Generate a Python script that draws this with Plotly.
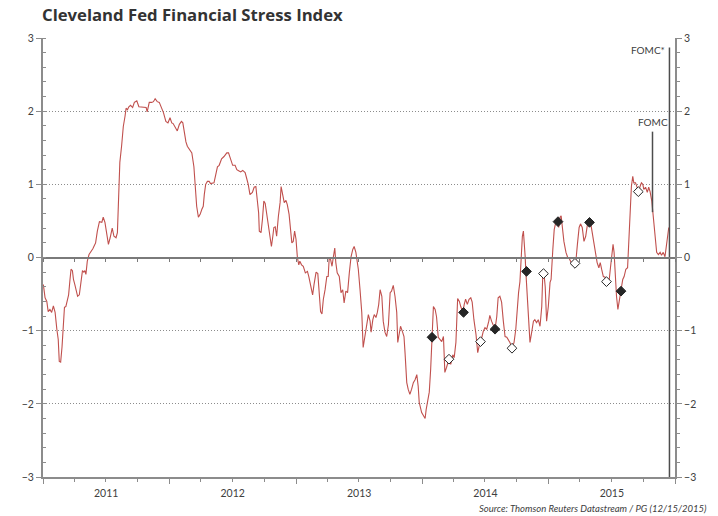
import pandas as pd
import plotly.graph_objects as go

# ---- data ----
start_date = "2011-01-01"
# days since 2011-01-01
day_offsets = [
    1, 6, 11, 15, 20, 25, 30, 35, 40, 44, 47, 51, 55, 59, 62, 66, 70, 74, 78, 81,
    85, 88, 92, 97, 100, 105, 109, 114, 118, 121, 124, 128, 133, 138, 144, 147, 152, 157, 163, 170,
    174, 179, 184, 189, 194, 200, 205, 211, 215, 219, 222, 227, 232, 237, 240, 244, 248, 253, 259, 264,
    271, 277, 285, 292, 298, 301, 307, 314, 319, 324, 330, 336, 341, 348, 355, 361, 367, 372, 376, 381,
    388, 394, 400, 404, 408, 413, 417, 422, 427, 430, 436, 440, 444, 449, 454, 459, 463, 466, 470, 475,
    480, 484, 490, 494, 499, 504, 509, 516, 523, 531, 536, 542, 548, 555, 560, 564, 571, 577, 584, 588,
    593, 598, 605, 610, 615, 619, 623, 625, 630, 634, 638, 642, 646, 651, 656, 660, 664, 667, 671, 675,
    680, 685, 688, 692, 697, 702, 706, 711, 716, 719, 723, 727, 731, 735, 739, 742, 747, 752, 758, 764,
    768, 774, 779, 783, 789, 794, 798, 802, 806, 810, 815, 820, 824, 827, 831, 835, 839, 843, 846, 850,
    856, 861, 866, 870, 875, 880, 885, 890, 895, 899, 904, 911, 916, 921, 925, 930, 935, 940, 945, 948,
    953, 957, 962, 966, 970, 974, 979, 983, 988, 993, 998, 1003, 1007, 1012, 1017, 1022, 1025, 1029, 1033, 1039,
    1043, 1046, 1051, 1055, 1060, 1065, 1070, 1075, 1080, 1084, 1087, 1094, 1099, 1104, 1107, 1111, 1116, 1120, 1124, 1128,
    1133, 1137, 1142, 1147, 1152, 1157, 1161, 1166, 1173, 1178, 1184, 1188, 1193, 1198, 1203, 1207, 1213, 1217, 1221, 1226,
    1231, 1236, 1240, 1245, 1251, 1256, 1260, 1263, 1268, 1272, 1277, 1282, 1288, 1291, 1296, 1301, 1306, 1311, 1315, 1320,
    1325, 1330, 1335, 1340, 1344, 1349, 1355, 1361, 1366, 1370, 1374, 1378, 1380, 1385, 1388, 1390, 1393, 1395, 1399, 1402,
    1407, 1412, 1417, 1421, 1426, 1431, 1436, 1441, 1444, 1447, 1451, 1455, 1460, 1465, 1468, 1473, 1477, 1482, 1487, 1490,
    1494, 1497, 1500, 1505, 1511, 1516, 1520, 1525, 1529, 1536, 1540, 1544, 1549, 1553, 1558, 1563, 1568, 1573, 1578, 1582,
    1586, 1590, 1594, 1598, 1601, 1606, 1610, 1614, 1619, 1624, 1627, 1632, 1636, 1640, 1643, 1647, 1650, 1653, 1657, 1661,
    1667, 1671, 1675, 1679, 1684, 1689, 1693, 1696, 1700, 1704, 1707, 1712, 1717, 1721, 1725, 1729, 1733, 1736, 1741, 1746,
    1750, 1754, 1759, 1763, 1768, 1773, 1778, 1783, 1787, 1792, 1797, 1802, 1808,
]
stress_index = [
    -0.37, -0.55, -0.60, -0.74, -0.71, -0.75, -0.66, -0.75, -0.98, -1.12, -1.42, -1.43, -1.22, -0.94, -0.68, -0.67, -0.60, -0.51, -0.30, -0.16,
    -0.18, -0.30, -0.37, -0.48, -0.53, -0.51, -0.34, -0.18, -0.20, -0.18, -0.23, -0.05, 0.04, 0.07, 0.12, 0.15, 0.20, 0.36, 0.49, 0.48,
    0.55, 0.48, 0.31, 0.18, 0.27, 0.40, 0.29, 0.27, 0.34, 0.89, 1.30, 1.52, 1.79, 1.93, 2.04, 2.02, 2.06, 2.08, 2.05, 2.12,
    2.14, 2.06, 2.06, 2.05, 2.05, 1.99, 2.12, 2.12, 2.13, 2.17, 2.13, 2.12, 2.06, 1.98, 1.86, 1.84, 1.91, 1.84, 1.83, 1.79,
    1.73, 1.82, 1.86, 1.84, 1.72, 1.58, 1.52, 1.48, 1.46, 1.43, 1.24, 0.97, 0.70, 0.55, 0.59, 0.66, 0.70, 0.86, 1.00, 1.04,
    1.04, 1.01, 1.01, 1.02, 1.13, 1.24, 1.26, 1.35, 1.38, 1.43, 1.43, 1.34, 1.26, 1.26, 1.20, 1.19, 1.17, 1.19, 1.16, 1.09,
    1.00, 0.86, 0.89, 0.96, 0.97, 0.79, 0.61, 0.36, 0.34, 0.52, 0.77, 0.74, 0.61, 0.48, 0.29, 0.15, 0.29, 0.41, 0.42, 0.29,
    0.56, 0.75, 0.97, 0.86, 0.75, 0.78, 0.72, 0.59, 0.38, 0.20, 0.22, 0.36, 0.25, 0.00, -0.10, -0.05, -0.10, -0.12, -0.21, -0.19,
    -0.26, -0.40, -0.51, -0.37, -0.20, -0.22, -0.48, -0.74, -0.77, -0.57, -0.44, -0.26, -0.26, 0.00, -0.03, -0.12, 0.01, 0.13, -0.07, -0.21,
    -0.26, -0.48, -0.44, -0.62, -0.46, -0.48, -0.21, 0.01, 0.11, 0.15, 0.07, -0.16, -0.44, -0.75, -1.23, -1.08, -0.98, -0.78, -0.87, -1.02,
    -0.85, -0.78, -0.82, -0.75, -0.64, -0.44, -0.53, -0.87, -1.02, -1.08, -0.92, -0.48, -0.46, -0.38, -0.53, -0.75, -1.16, -1.02, -0.94, -1.02,
    -1.08, -1.30, -1.71, -1.80, -1.87, -1.80, -1.71, -1.67, -1.60, -1.76, -1.98, -2.12, -2.17, -2.20, -2.08, -1.98, -1.84, -1.53, -1.09, -0.67,
    -0.71, -0.81, -1.09, -1.12, -1.15, -1.08, -1.57, -1.50, -1.39, -1.46, -1.33, -1.37, -1.16, -0.56, -0.60, -0.67, -0.75, -0.64, -0.57, -0.64,
    -0.57, -0.55, -0.61, -0.85, -1.05, -1.30, -1.19, -1.15, -1.09, -1.01, -0.96, -0.98, -0.87, -0.79, -0.87, -0.94, -0.98, -0.81, -0.55, -0.53,
    -0.61, -0.87, -1.08, -1.09, -1.12, -1.16, -1.24, -1.16, -0.98, -0.71, -0.48, -0.33, -0.10, 0.29, 0.36, 0.25, 0.02, -0.19, -0.48, -0.81,
    -1.16, -1.02, -0.87, -0.85, -0.89, -0.85, -0.94, -0.67, -0.23, -0.20, -0.40, -0.87, -0.67, -0.34, -0.30, 0.11, 0.38, 0.49, 0.49, 0.41,
    0.55, 0.57, 0.41, 0.22, 0.07, 0.00, -0.01, -0.07, -0.10, -0.08, -0.03, 0.18, 0.41, 0.46, 0.41, 0.22, 0.29, 0.45, 0.48, 0.48,
    0.36, 0.22, 0.11, -0.01, -0.07, -0.14, -0.07, -0.16, -0.26, -0.27, -0.33, -0.37, -0.30, -0.12, 0.00, 0.18, 0.07, -0.30, -0.53, -0.71,
    -0.53, -0.46, -0.30, -0.26, -0.16, -0.14, 0.29, 0.77, 0.97, 1.11, 1.02, 1.02, 0.96, 0.90, 0.97, 1.02, 1.00, 0.93, 0.96, 0.89,
    0.96, 0.90, 0.77, 0.56, 0.38, 0.07, 0.04, 0.07, 0.03, 0.07, 0.01, 0.18, 0.41,
]

# FOMC meetings without press conference (filled) and with (open)
fomc_filled_dates = ["2014-01-29", "2014-04-30", "2014-07-30", "2014-10-29",
                     "2015-01-28", "2015-04-29", "2015-07-29"]
fomc_filled_values = [-1.09, -0.75, -0.98, -0.19, 0.49, 0.48, -0.46]
fomc_open_dates = ["2014-03-19", "2014-06-18", "2014-09-17", "2014-12-17",
                   "2015-03-18", "2015-06-17", "2015-09-17"]
fomc_open_values = [-1.39, -1.15, -1.24, -0.22, -0.08, -0.33, 0.90]

fomc_oct_date = "2015-10-28"
fomc_oct_span = [1.72, 0.62]
fomc_dec_date = "2015-12-16"
fomc_dec_span = [2.87, -3.0]

year_range = ["2011-01-01", "2016-01-01"]
y_range = [-3, 3]

# ---- figure ----
dates = pd.Timestamp(start_date) + pd.to_timedelta(day_offsets, unit="D")

LINE_RED = "#c0504d"
DARK = "#333333"
AXIS = "#8c8c8c"
ZERO = "#7a7a7a"
TXT = "#404040"
FONT = "Lato"

fig = go.Figure()
fig.add_trace(go.Scatter(x=dates, y=stress_index, mode="lines",
                         line=dict(color=LINE_RED, width=1.1), showlegend=False,
                         hoverinfo="skip"))
fig.add_trace(go.Scatter(x=fomc_filled_dates, y=fomc_filled_values, mode="markers",
                         marker=dict(symbol="diamond", size=7.5, color="#262626",
                                     line=dict(color="#262626", width=1)),
                         showlegend=False))
fig.add_trace(go.Scatter(x=fomc_open_dates, y=fomc_open_values, mode="markers",
                         marker=dict(symbol="diamond", size=7.5, color="white",
                                     line=dict(color="#262626", width=1)),
                         showlegend=False))
# FOMC vertical lines (on the overlay axes so those axes are drawn)
fig.add_trace(go.Scatter(x=[fomc_oct_date, fomc_oct_date, None, fomc_dec_date, fomc_dec_date],
                         y=[fomc_oct_span[0], fomc_oct_span[1], None, fomc_dec_span[0], fomc_dec_span[1]],
                         mode="lines", line=dict(color="#4d4d4d", width=1.5),
                         xaxis="x2", yaxis="y2", showlegend=False, hoverinfo="skip"))

fig.add_annotation(x=fomc_dec_date, y=2.84, xref="x", yref="y", text="FOMC*",
                   showarrow=False, xanchor="right", xshift=-2,
                   font=dict(family=FONT, size=10, color=TXT))
fig.add_annotation(x=fomc_oct_date, y=1.85, xref="x", yref="y", text="FOMC",
                   showarrow=False, xanchor="center",
                   font=dict(family=FONT, size=10, color=TXT))
fig.add_annotation(x=1.054, y=-0.072, xref="paper", yref="paper",
                   text="Source: Thomson Reuters Datastream / PG (12/15/2015)",
                   showarrow=False, xanchor="right", yanchor="middle",
                   font=dict(family=FONT, size=9.5, color=TXT, style="italic"))

tickfont = dict(family=FONT, size=10.5, color=TXT)
fig.update_layout(
    width=718, height=516,
    margin=dict(l=43, r=43, t=38, b=39),
    paper_bgcolor="white", plot_bgcolor="white",
    title=dict(text="<b>Cleveland Fed Financial Stress Index</b>",
               x=42 / 718, xanchor="left", xref="container",
               y=1 - 15 / 516, yanchor="middle", yref="container",
               font=dict(family="Open Sans", size=16.7, color=DARK)),
    xaxis=dict(type="date", range=year_range, showgrid=False, zeroline=False,
               showline=True, linecolor=AXIS, linewidth=2,
               ticks="outside", ticklen=5, tickcolor=AXIS, tickwidth=1,
               tick0="2011-01-01", dtick="M12", tickformat="%Y",
               ticklabelmode="period", tickfont=tickfont,
               minor=dict(dtick="M3", tick0="2011-01-01", ticks="outside",
                          ticklen=3, tickcolor=AXIS, showgrid=False)),
    xaxis2=dict(type="date", range=year_range, overlaying="x", anchor="free",
                position=0.5, showgrid=False, zeroline=False,
                showline=True, linecolor=ZERO, linewidth=2,
                ticks="outside", ticklen=3, tickcolor=ZERO,
                tick0="2011-01-01", dtick="M3", showticklabels=False),
    yaxis=dict(range=y_range, dtick=1, showgrid=True, gridcolor="#8c8c8c",
               griddash="1px,2px", gridwidth=1, zeroline=False,
               showline=True, linecolor=AXIS, linewidth=2,
               ticks="outside", ticklen=5, tickcolor=AXIS, tickfont=tickfont,
               minor=dict(dtick=0.2, ticks="inside", ticklen=3, tickcolor=AXIS,
                          showgrid=False)),
    yaxis2=dict(range=y_range, dtick=1, overlaying="y", side="right",
                anchor="x", showgrid=False, zeroline=False,
                showline=True, linecolor=AXIS, linewidth=2,
                ticks="outside", ticklen=5, tickcolor=AXIS, tickfont=tickfont,
                minor=dict(dtick=0.2, ticks="outside", ticklen=3, tickcolor=AXIS,
                           showgrid=False)),
)

fig.write_html("out.html", config={"displayModeBar": False},
               post_script="document.body.style.margin='0';document.body.style.padding='0';")
